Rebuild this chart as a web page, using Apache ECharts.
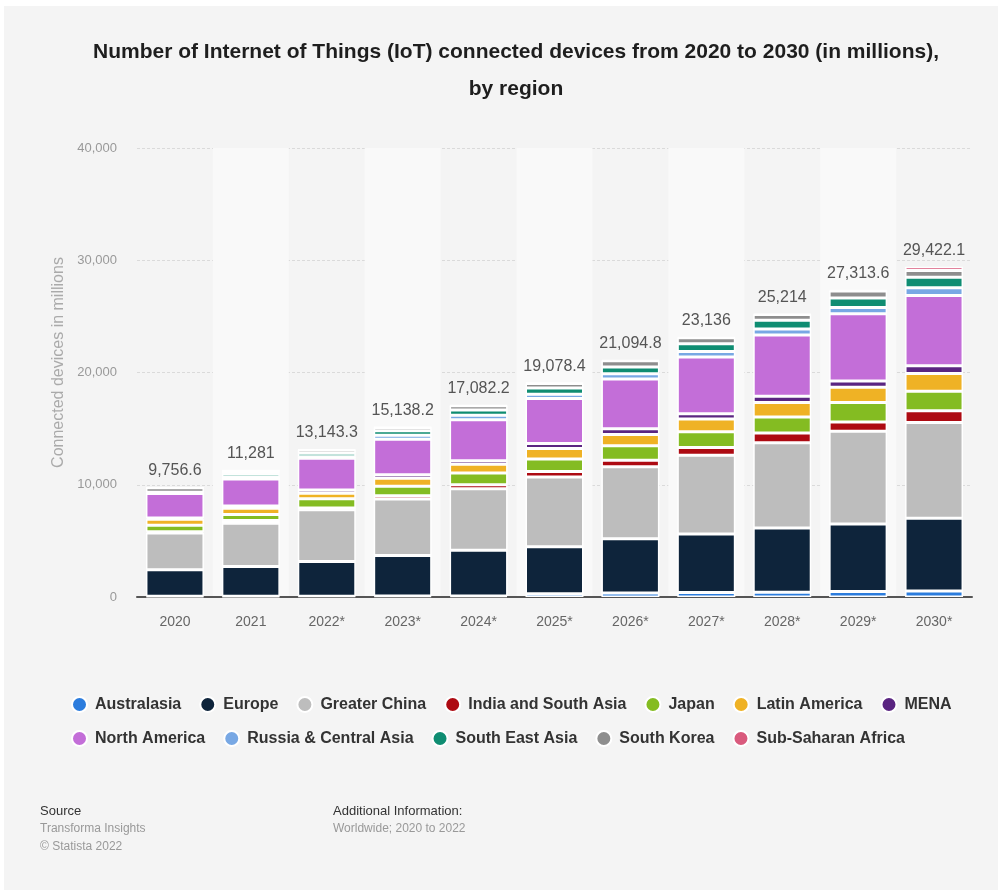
<!DOCTYPE html>
<html>
<head>
<meta charset="utf-8">
<script src="https://cdn.jsdelivr.net/npm/echarts@6/dist/echarts.min.js"></script>
<style>
  html, body { margin: 0; padding: 0; background: #fff; }
  .panel { position: absolute; left: 4px; top: 6px; width: 994px; height: 884px; background: #f4f4f4; }
  #chart { position: absolute; left: 0; top: 0; width: 1004px; height: 896px; }
</style>
</head>
<body>
<div class="panel"></div>
<div id="chart"></div>
<script>
  // years on the x axis (* = forecast)
  const years = ['2020', '2021', '2022*', '2023*', '2024*', '2025*', '2026*', '2027*', '2028*', '2029*', '2030*'];
  // totals printed above each bar
  const totals = [9756.6, 11281, 13143.3, 15138.2, 17082.2, 19078.4, 21094.8, 23136, 25214, 27313.6, 29422.1];

  // regions, bottom of the stack first (in millions)
  const australasia = [60, 60, 70, 80, 100, 300, 350, 390, 420, 480, 540];
  const europe      = [2360, 2650, 3100, 3610, 4060, 4180, 4850, 5225, 5720, 6020, 6480];
  const china       = [3280, 3860, 4600, 5040, 5490, 6210, 6400, 7016, 7600, 8260, 8530];
  const india       = [120, 250, 150, 300, 350, 480, 580, 690, 870, 840, 1050];
  const japan       = [570, 540, 840, 840, 1050, 1135, 1290, 1400, 1430, 1730, 1730];
  const latam       = [540, 540, 480, 720, 780, 925, 1000, 1135, 1285, 1345, 1585];
  const mena        = [100, 200, 300, 300, 300, 450, 520, 480, 570, 570, 690];
  const northAm     = [2180, 2420, 2810, 3165, 3670, 4000, 4430, 5045, 5440, 5980, 6260];
  const russia      = [50, 200, 150, 350, 400, 380, 460, 480, 540, 570, 690];
  const seAsia      = [80, 280, 300, 400, 450, 570, 610, 690, 780, 840, 925];
  const korea       = [385, 250, 300, 300, 380, 400, 550, 540, 510, 630, 600];
  const ssAfrica    = [30, 30, 40, 40, 50, 50, 50, 50, 60, 60, 350];

  const yTicks = [0, 10000, 20000, 30000, 40000];

  const regions = [
    ['Australasia', australasia, '#2b7cdd'],
    ['Europe', europe, '#0e243b'],
    ['Greater China', china, '#bdbdbd'],
    ['India and South Asia', india, '#ad0a12'],
    ['Japan', japan, '#84bc22'],
    ['Latin America', latam, '#efb225'],
    ['MENA', mena, '#5a2581'],
    ['North America', northAm, '#c36ed8'],
    ['Russia & Central Asia', russia, '#78a8e4'],
    ['South East Asia', seAsia, '#0f8d72'],
    ['South Korea', korea, '#8e8e8e'],
    ['Sub-Saharan Africa', ssAfrica, '#d95a7d']
  ];

  const font = "'Liberation Sans', Arial, sans-serif";

  let myChart = echarts.init(document.getElementById('chart'));

  const series = regions.map(function (r, i) {
    let s = {
      name: r[0],
      type: 'bar',
      stack: 'total',
      barWidth: 58,
      data: r[1],
      itemStyle: { color: r[2], borderColor: '#fff', borderWidth: 1.5 }
    };
    if (i === regions.length - 1) {
      // total on top of the stack
      s.label = {
        show: true,
        position: 'top',
        distance: 8,
        color: '#555',
        fontSize: 16,
        fontFamily: font,
        formatter: function (p) {
          return totals[p.dataIndex].toLocaleString('en-US', { maximumFractionDigits: 1 });
        }
      };
    }
    return s;
  });

  const names = regions.map(function (r) { return r[0]; });

  const legendBase = {
    left: 66,
    icon: 'circle', itemWidth: 15, itemHeight: 15, itemGap: 18,
    selectedMode: false,
    textStyle: { fontSize: 16, fontWeight: 'bold', color: '#333', padding: [0, 0, 0, 3] }
  };

  myChart.setOption({
    animation: false,
    color: regions.map(function (r) { return r[2]; }),
    textStyle: { fontFamily: font },
    title: {
      text: 'Number of Internet of Things (IoT) connected devices from 2020 to 2030 (in millions),\nby region',
      left: 511,
      textAlign: 'center',
      top: 29,
      textStyle: {
        fontWeight: 'bold',
        fontSize: 21,
        lineHeight: 37,
        color: '#1e1e1e'
      }
    },
    grid: { left: 137, right: 32, top: 148, bottom: 299 },
    legend: [
      Object.assign({ data: names.slice(0, 7), top: 691 }, legendBase),
      Object.assign({ data: names.slice(7), top: 725 }, legendBase)
    ],
    xAxis: {
      type: 'category',
      data: years,
      axisTick: { show: false },
      axisLine: { lineStyle: { color: '#555', width: 2 } },
      axisLabel: { color: '#666', fontSize: 14, margin: 18 },
      splitArea: { show: true, areaStyle: { color: ['rgba(0,0,0,0)', '#f9f9f9'] } }
    },
    yAxis: {
      type: 'value',
      min: yTicks[0],
      max: yTicks[yTicks.length - 1],
      interval: yTicks[1] - yTicks[0],
      name: 'Connected devices in millions',
      nameLocation: 'middle',
      nameGap: 68,
      nameTextStyle: { color: '#aaa', fontSize: 16, padding: [0, 0, 0, 20] },
      axisLine: { show: false },
      axisTick: { show: false },
      axisLabel: {
        color: '#999', fontSize: 13, margin: 20,
        formatter: function (v) { return v.toLocaleString('en-US'); }
      },
      splitLine: { lineStyle: { color: '#dadada', type: [3, 2] } }
    },
    graphic: [
      { type: 'text', left: 40, top: 805, style: { text: 'Source', fontSize: 13, fill: '#333', fontFamily: font } },
      { type: 'text', left: 40, top: 823, style: { text: 'Transforma Insights', fontSize: 12, fill: '#999', fontFamily: font } },
      { type: 'text', left: 40, top: 841, style: { text: '© Statista 2022', fontSize: 12, fill: '#999', fontFamily: font } },
      { type: 'text', left: 333, top: 805, style: { text: 'Additional Information:', fontSize: 13, fill: '#333', fontFamily: font } },
      { type: 'text', left: 333, top: 823, style: { text: 'Worldwide; 2020 to 2022', fontSize: 12, fill: '#999', fontFamily: font } }
    ],
    series: series
  });
</script>
</body>
</html>
